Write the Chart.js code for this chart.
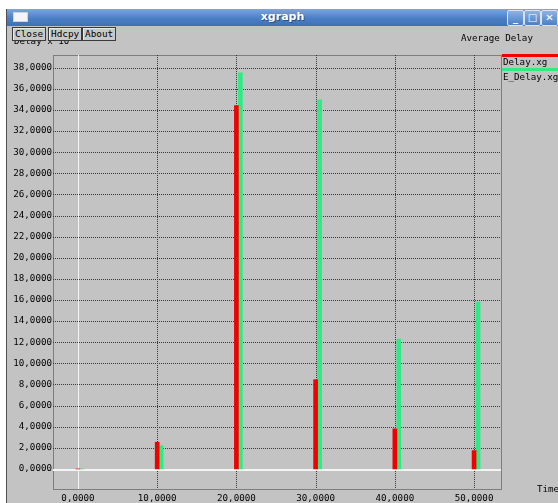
<!DOCTYPE html>
<html>
<head>
<meta charset="utf-8">
<title>xgraph</title>
<script src="https://cdn.jsdelivr.net/npm/chart.js@4/dist/chart.umd.min.js"></script>
<style>
  html, body { margin: 0; padding: 0; width: 558px; height: 503px; overflow: hidden; background: #ffffff; }
  #win { position: absolute; left: 6px; top: 9px; width: 552px; height: 494px; background: #c3c3c3;
         border-left: 1px solid #505050; box-sizing: border-box; }
  #titlebar { position: absolute; left: 0; top: 0; right: 0; height: 17px;
              background: linear-gradient(#7ba7df, #4b7fc4 55%, #3e70b6); }
  #titlebar .name { position: absolute; left: 0; right: 0; top: 1px; text-align: center;
                    font: bold 11px "DejaVu Sans", sans-serif; color: #fff; text-shadow: 1px 1px 0 #2b4f80; }
  #titlebar .icon { position: absolute; left: 6px; top: 3px; width: 13px; height: 8px; background: #f4f4f4;
                    border: 1px solid #c8d4e6; }
  .wbtn { position: absolute; top: 1px; width: 15px; height: 14px; border: 1px solid #d8e4f4; border-radius: 2px;
          background: linear-gradient(#8bb3e6, #4b7fc4); color: #fff; font: bold 10px "DejaVu Sans", sans-serif;
          text-align: center; line-height: 14px; }
  .btn { position: absolute; top: 27px; height: 12px; padding: 0 2px; background: #c8c8c8; border: 1px solid #3a3a3a;
         box-shadow: inset 1px 1px 0 #e8e8e8; font: 9.4px "DejaVu Sans Mono", monospace; line-height: 12px;
         color: #000; z-index: 3; }
  #chart { position: absolute; left: 0; top: 0; z-index: 2; }
</style>
</head>
<body>
<div id="win">
  <div id="titlebar">
    <div class="icon"></div>
    <div class="name">xgraph</div>
    <div class="wbtn" style="left:500px;">_</div>
    <div class="wbtn" style="left:517px;">&#9633;</div>
    <div class="wbtn" style="left:534px;">&#10005;</div>
  </div>
</div>
<div class="btn" style="left:12px;">Close</div>
<div class="btn" style="left:48px;">Hdcpy</div>
<div class="btn" style="left:82px;">About</div>
<canvas id="chart" width="558" height="503"></canvas>

<script>
// Simulation time (s) at which each average was sampled
const times = [0, 10, 20, 30, 40, 50];
// Average delay of each trace file, in units of 10^-3 s
const delay = [0, 2.53, 34.4, 8.45, 3.8, 1.74];
const eDelay = [0, 2.21, 37.5, 34.95, 12.3, 15.8];
const seriesNames = ['Delay.xg', 'E_Delay.xg'];
const seriesColors = ['#f20000', '#2feb85'];

const xTicks = [0, 10, 20, 30, 40, 50];
const yTicks = [0, 2, 4, 6, 8, 10, 12, 14, 16, 18, 20, 22, 24, 26, 28, 30, 32, 34, 36, 38];

const title = 'Average Delay';
const xUnit = 'Time';
const yUnit = 'Delay x 10';
const yUnitExp = '-3';

// second series is drawn just to the right of the first one
const SECOND_SHIFT = 0.5;

const FONT = '9.2px "DejaVu Sans Mono", monospace';
const fmt = v => v.toFixed(4).replace('.', ',');

const xgraphDecor = {
  id: 'xgraphDecor',
  beforeDatasetsDraw(chart) {
    const { ctx, chartArea: a, scales: { x, y } } = chart;
    ctx.save();
    ctx.strokeStyle = '#383838';
    ctx.lineWidth = 1;
    ctx.setLineDash([1, 1]);
    // dotted grid
    yTicks.forEach(v => {
      if (v === 0) return;
      const py = Math.round(y.getPixelForValue(v)) + 0.5;
      ctx.beginPath(); ctx.moveTo(a.left, py); ctx.lineTo(a.right, py); ctx.stroke();
    });
    xTicks.forEach(v => {
      if (v === 0) return;
      const px = Math.round(x.getPixelForValue(v)) + 0.5;
      ctx.beginPath(); ctx.moveTo(px, a.top); ctx.lineTo(px, a.bottom); ctx.stroke();
    });
    // dotted frame
    ctx.strokeRect(Math.round(a.left) + 0.5, Math.round(a.top) + 0.5,
                   Math.round(a.right - a.left), Math.round(a.bottom - a.top));
    // solid zero axes
    ctx.setLineDash([]);
    ctx.strokeStyle = '#f4f4f4';
    const zy = y.getPixelForValue(0);
    ctx.lineWidth = 2;
    ctx.beginPath(); ctx.moveTo(a.left, zy + 1); ctx.lineTo(a.right, zy + 1); ctx.stroke();
    const zx = Math.round(x.getPixelForValue(0)) + 0.5;
    ctx.lineWidth = 1;
    ctx.beginPath(); ctx.moveTo(zx, a.top); ctx.lineTo(zx, a.bottom); ctx.stroke();
    ctx.restore();
  },
  afterDraw(chart) {
    const { ctx, chartArea: a } = chart;
    ctx.save();
    ctx.font = FONT;
    ctx.fillStyle = '#000';
    ctx.textBaseline = 'alphabetic';
    // y unit label, exponent raised
    ctx.textAlign = 'left';
    ctx.fillText(yUnit, 14, 44);
    const w = ctx.measureText(yUnit).width;
    ctx.fillText(yUnitExp, 14 + w + 2, 39);
    // title
    ctx.fillText(title, 461, 41);
    // x unit
    ctx.fillText(xUnit, 537, 492);
    // legend outside the plot, to the right
    chart.data.datasets.forEach((ds, i) => {
      const ly = 55 + i * 14;
      ctx.fillStyle = ds.backgroundColor;
      ctx.fillRect(a.right + 1, ly - 1, 60, 3);
      ctx.fillStyle = '#000';
      ctx.fillText(ds.label, a.right + 2, ly + 10 + i * 1);
    });
    ctx.restore();
  }
};

const barData = (vals, shift) => times.map((t, i) => ({ x: t + shift, y: vals[i] }));

new Chart(document.getElementById('chart'), {
  type: 'bar',
  data: {
    datasets: [
      { label: seriesNames[0], data: barData(delay, 0), backgroundColor: seriesColors[0] },
      { label: seriesNames[1], data: barData(eDelay, SECOND_SHIFT), backgroundColor: seriesColors[1] }
    ]
  },
  options: {
    responsive: false,
    animation: false,
    events: [],
    grouped: false,
    barThickness: 4,
    borderWidth: 0,
    layout: { padding: { left: 0, top: 55, right: 57, bottom: 0 } },
    plugins: { legend: { display: false }, tooltip: { enabled: false }, title: { display: false } },
    scales: {
      x: {
        type: 'linear', min: -3.15, max: 53.4, offset: false,
        grid: { display: false, drawTicks: false }, border: { display: false },
        ticks: { font: { family: '"DejaVu Sans Mono", monospace', size: 9.2 }, color: '#000',
                 padding: 4, maxRotation: 0, autoSkip: false, callback: v => fmt(v) },
        afterBuildTicks: s => { s.ticks = xTicks.map(v => ({ value: v })); },
        afterFit: s => { s.height = 14; }
      },
      y: {
        type: 'linear', min: -1.9, max: 39.2,
        grid: { display: false, drawTicks: false }, border: { display: false },
        ticks: { font: { family: '"DejaVu Sans Mono", monospace', size: 9.2 }, color: '#000',
                 padding: 1, autoSkip: false, callback: v => fmt(v) },
        afterBuildTicks: s => { s.ticks = yTicks.map(v => ({ value: v })); },
        afterFit: s => { s.width = 53; }
      }
    }
  },
  plugins: [xgraphDecor]
});
</script>
</body>
</html>
